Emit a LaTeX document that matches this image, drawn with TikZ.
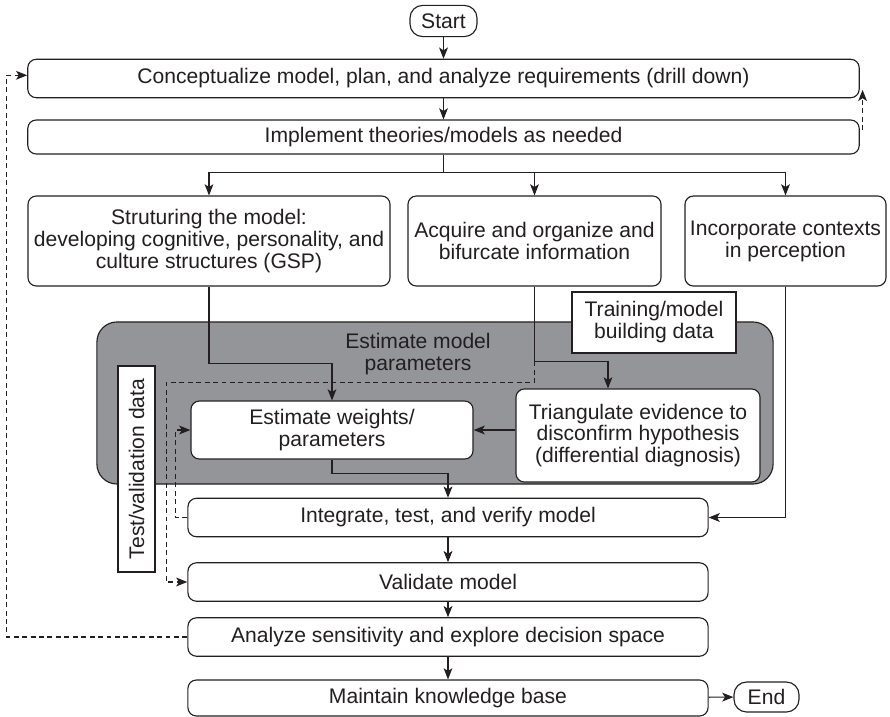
\documentclass[tikz,border=0pt]{standalone}
\usepackage{fontspec}
\setmainfont{Liberation Sans}
\usetikzlibrary{arrows.meta}
\definecolor{inkgray}{RGB}{35,31,32}
\definecolor{regiongray}{RGB}{147,149,152}

\begin{document}
\begin{tikzpicture}[
    x=0.025cm, y=-0.025cm,
    every node/.style={font=\fontsize{15}{15.6}\selectfont, text=inkgray},
    stepbox/.style={rectangle, draw=inkgray, fill=white, line width=0.8pt, rounded corners=6pt, minimum width=#1, minimum height=0.96cm, align=center, inner sep=2pt},
    terminal/.style={rectangle, draw=inkgray, fill=white, line width=0.8pt, rounded corners=9pt, minimum width=#1, minimum height=0.78cm},
    databox/.style={rectangle, draw=inkgray, fill=white, line width=0.8pt, align=center, inner sep=2pt},
    region/.style={rectangle, draw=inkgray, fill=regiongray, line width=0.8pt, rounded corners=0.5cm, minimum width=16.9cm, minimum height=4.05cm},
    arrow/.style={-{Stealth[length=2.8mm, width=2.2mm, inset=0.7mm]}, line width=0.8pt, color=inkgray},
    dasharrow/.style={arrow, dash pattern=on 3.5pt off 2.5pt}
]
\useasboundingbox (0,0) rectangle (890,717);

% Start and drill-down steps
\node[terminal=1.675cm] (start) at (443.5,21) {Start};
\node[stepbox=20.78cm] (concept) at (443.5,78.5) {Conceptualize model, plan, and analyze requirements (drill down)};
\node[stepbox=20.78cm, minimum height=0.85cm] (implement) at (443.5,137) {Implement theories/models as needed};

% Three parallel activities
\node[stepbox=9.05cm, minimum height=2.25cm] (struct) at (209,241) {Struturing the model:\\developing cognitive, personality, and\\culture structures (GSP)};
\node[stepbox=6.325cm, minimum height=2.25cm] (acquire) at (534.5,241) {Acquire and organize and\\bifurcate information};
\node[stepbox=5.025cm, minimum height=2.25cm] (context) at (785.5,241) {Incorporate contexts\\in perception};

% Parameter estimation region
\node[region] (estregion) at (435,403) {};
\node[align=center] (estlabel) at (418,354) {Estimate model\\parameters};
\node[stepbox=7.05cm, minimum height=1.45cm] (weights) at (332,430) {Estimate weights/\\parameters};
\node[stepbox=6.1cm, minimum height=2.325cm] (triang) at (638,435.5) {Triangulate evidence to\\disconfirm hypothesis\\(differential diagnosis)};
\node[databox, minimum width=4.1cm, minimum height=1.525cm] (traindata) at (654,322.5) {Training/model\\building data};
\node[databox, rotate=90, minimum width=5.15cm, minimum height=0.925cm] (testdata) at (136.5,469) {Test/validation data};

% Verification and maintenance
\node[stepbox=13cm] (integrate) at (448,517.5) {Integrate, test, and verify model};
\node[stepbox=13cm] (validate) at (448,582) {Validate model};
\node[stepbox=13cm] (analyze) at (448,637) {Analyze sensitivity and explore decision space};
\node[stepbox=13cm, minimum height=0.9cm] (maintain) at (448,698) {Maintain knowledge base};
\node[terminal=1.625cm, minimum height=0.75cm] (stop) at (766.5,697) {End};

% Main flow
\draw[arrow] (start) -- (concept);
\draw[arrow] (concept) -- (implement);
\draw[dasharrow] ([xshift=2pt,yshift=5pt]implement.east) -- ([xshift=2pt,yshift=6pt]concept.south east);
\draw[arrow] (implement.south) -- ++(0,18) -| (struct.north);
\draw[arrow] (implement.south) -- ++(0,18) -| (acquire.north);
\draw[arrow] (implement.south) -- ++(0,18) -| (context.north);

% Into the estimation region
\draw[arrow] (struct.south) -- ++(0,77) -| (weights.north);
\draw[arrow] (acquire.south) -- ++(0,75) coordinate (fork) -| ([xshift=-0.75cm]triang.north);
\draw[arrow] (triang.west |- weights.east) -- (weights.east);
\draw[arrow] (weights.south) -- ++(0,14) -| (integrate.north);
\draw[arrow] (context.south) |- (integrate.east);

% Data paths (dashed)
\draw[dasharrow] (fork) -- ++(0,21) -| ([xshift=-0.525cm]validate.west) -- (validate.west);
\draw[dasharrow] (integrate.west) -- ++(-12,0) |- (weights.west);
\draw[dasharrow] (analyze.west) -- ++(-181,0) |- ([yshift=0.08cm]concept.west);

% Remaining steps
\draw[arrow] (integrate) -- (validate);
\draw[arrow] (validate) -- (analyze);
\draw[arrow] (analyze) -- (maintain);
\draw[arrow] (maintain) -- (stop);

\end{tikzpicture}
\end{document}
